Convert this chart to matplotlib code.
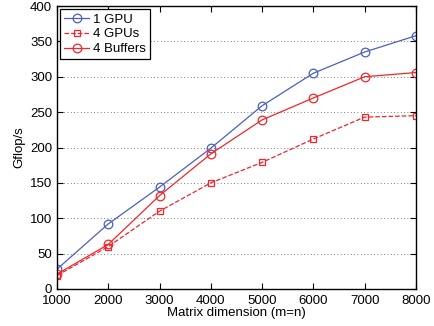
import numpy as np
import matplotlib.pyplot as plt

plt.rcParams['font.family'] = ['Liberation Sans', 'DejaVu Sans']
plt.rcParams['font.size'] = 9.5

dims = [1000, 2000, 3000, 4000, 5000, 6000, 7000, 8000]
gpu1 = [28, 92, 144, 199, 259, 305, 335, 358]
gpu4 = [19, 60, 110, 150, 179, 212, 243, 245]
buf4 = [21, 63, 132, 191, 239, 270, 300, 306]

blue = '#4a5fc0'
red = '#f0262b'

fig = plt.figure(figsize=(4.35, 3.26), dpi=100)
ax = fig.add_axes([0.131, 0.1135, 0.825, 0.868])

ax.plot(dims, gpu1, '-o', color=blue, mfc='none', ms=6.2, lw=0.9, mew=0.9, label='1 GPU')
ax.plot(dims, gpu4, '--s', color=red, mfc='none', ms=5, lw=0.9, mew=0.9, label='4 GPUs')
ax.plot(dims, buf4, '-o', color=red, mfc='none', ms=6.2, lw=0.9, mew=0.9, label='4 Buffers')

ax.set_xlim(1000, 8000)
ax.set_ylim(0, 400)
ax.set_xticks(dims)
ax.set_yticks(np.arange(0, 401, 50))
ax.yaxis.grid(True, linestyle=(0, (1, 3)), color='#555555', lw=0.6)
ax.tick_params(direction='in', top=True, right=True, length=4, labelsize=9.5)
ax.tick_params(axis='x', pad=4.5)
for s in ax.spines.values():
    s.set_linewidth(1.0)

ax.set_xlabel('Matrix dimension (m=n)', labelpad=0)
ax.set_ylabel('Gflop/s', labelpad=3)

leg = ax.legend(loc='upper left', fancybox=False, edgecolor='black', framealpha=1,
                fontsize=9.5, borderaxespad=0.25, handlelength=1.9, borderpad=0.3,
                labelspacing=0.2, handletextpad=0.3)
leg.get_frame().set_linewidth(0.9)

fig.savefig('out.png', dpi=100)
